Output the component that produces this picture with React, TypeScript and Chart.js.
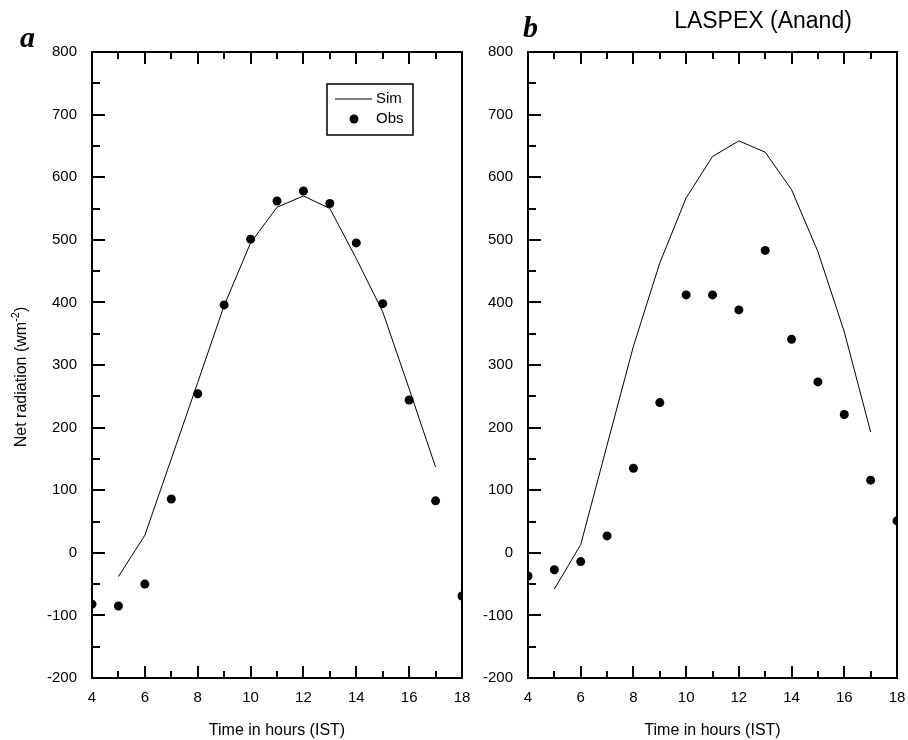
import React, { useEffect, useRef } from "react";
import { Chart, registerables } from "chart.js";

Chart.register(...registerables);

// Hours of the day (IST)
const simHours = [5, 6, 7, 8, 9, 10, 11, 12, 13, 14, 15, 16, 17];
const obsHours = [4, 5, 6, 7, 8, 9, 10, 11, 12, 13, 14, 15, 16, 17, 18];

// Panel a: net radiation (W m-2)
const simA = [-38, 28, 150, 272, 395, 495, 552, 570, 550, 470, 385, 262, 137];
const obsA = [-82, -85, -50, 86, 254, 396, 501, 562, 578, 558, 495, 398, 244, 83, -69];

// Panel b: LASPEX (Anand)
const simB = [-58, 13, 172, 330, 463, 567, 633, 658, 640, 580, 481, 353, 193];
const obsB = [-37, -27, -14, 27, 135, 240, 412, 412, 388, 483, 341, 273, 221, 116, 51];

// Axis ranges
const X_MIN = 4;
const X_MAX = 18;
const X_MAJOR = 2;
const X_MINOR = 1;
const Y_MIN = -200;
const Y_MAX = 800;
const Y_MAJOR = 100;
const Y_MINOR = 50;

const SANS = "'Liberation Sans', Arial, sans-serif";
const SERIF = "'Liberation Serif', 'Times New Roman', serif";

type PanelProps = {
  left: number;
  width: number;
  plotLeft: number;
  plotRight: number;
  sim: number[];
  obs: number[];
  letter: string;
  letterX: number;
  letterY: number;
  heading?: string;
  headingX?: number;
  showLegend?: boolean;
  showYTitle?: boolean;
};

const HEIGHT = 740;
const PLOT_TOP = 52;
const X_AXIS_H = 62;

function Panel(props: PanelProps) {
  const ref = useRef<HTMLCanvasElement | null>(null);

  useEffect(() => {
    const canvas = ref.current;
    if (!canvas) return;

    const framePlugin = {
      id: "frameAndLabels",
      afterDraw(chart: any) {
        const { ctx, chartArea, scales } = chart;
        const { left, right, top, bottom } = chartArea;
        const xs = scales.x;
        const ys = scales.y;
        ctx.save();
        ctx.strokeStyle = "#000";
        ctx.fillStyle = "#000";

        // inward ticks on left, top and bottom
        ctx.lineWidth = 2;
        ctx.beginPath();
        for (let v = Y_MIN; v <= Y_MAX; v += Y_MINOR) {
          const y = Math.round(ys.getPixelForValue(v));
          const len = v % Y_MAJOR === 0 ? 13 : 8;
          ctx.moveTo(left, y);
          ctx.lineTo(left + len, y);
        }
        for (let h = X_MIN; h <= X_MAX; h += X_MINOR) {
          const x = Math.round(xs.getPixelForValue(h));
          const len = (h - X_MIN) % X_MAJOR === 0 ? 12 : 7;
          ctx.moveTo(x, top);
          ctx.lineTo(x, top + len);
          ctx.moveTo(x, bottom);
          ctx.lineTo(x, bottom - len);
        }
        ctx.stroke();

        // frame
        ctx.lineWidth = 2;
        ctx.strokeRect(left, top, right - left, bottom - top);

        // legend
        if (props.showLegend) {
          const bw = 86;
          const bh = 51;
          const bx = right - 49 - bw;
          const by = top + 32;
          ctx.lineWidth = 1.5;
          ctx.strokeRect(bx, by, bw, bh);
          const ds = chart.data.datasets;
          ctx.font = `15px ${SANS}`;
          ctx.textBaseline = "middle";
          ctx.textAlign = "left";
          // line sample
          ctx.lineWidth = 1;
          ctx.beginPath();
          ctx.moveTo(bx + 8, by + 15);
          ctx.lineTo(bx + 45, by + 15);
          ctx.stroke();
          ctx.fillText(ds[0].label, bx + 49, by + 15);
          // dot sample
          ctx.beginPath();
          ctx.arc(bx + 27, by + 35, 4.5, 0, Math.PI * 2);
          ctx.fill();
          ctx.fillText(ds[1].label, bx + 49, by + 35);
        }

        // panel letter
        ctx.font = `italic bold 30px ${SERIF}`;
        ctx.textAlign = "left";
        ctx.textBaseline = "alphabetic";
        ctx.fillText(props.letter, props.letterX, props.letterY);

        // heading
        if (props.heading) {
          ctx.font = `23px ${SANS}`;
          ctx.textAlign = "center";
          ctx.textBaseline = "middle";
          ctx.fillText(props.heading, props.headingX ?? (left + right) / 2, 22);
        }

        // y-axis title with superscript
        if (props.showYTitle) {
          ctx.translate(22, 377);
          ctx.rotate(-Math.PI / 2);
          const main = "Net radiation (wm";
          const sup = "-2";
          const tail = ")";
          ctx.textBaseline = "middle";
          ctx.textAlign = "left";
          ctx.font = `16px ${SANS}`;
          const w1 = ctx.measureText(main).width;
          const w3 = ctx.measureText(tail).width;
          ctx.font = `11px ${SANS}`;
          const w2 = ctx.measureText(sup).width;
          let x = -(w1 + w2 + w3) / 2;
          ctx.font = `16px ${SANS}`;
          ctx.fillText(main, x, 0);
          x += w1;
          ctx.font = `11px ${SANS}`;
          ctx.fillText(sup, x, -6);
          x += w2;
          ctx.font = `16px ${SANS}`;
          ctx.fillText(tail, x, 0);
        }
        ctx.restore();
      },
    };

    const chart = new Chart(canvas, {
      type: "scatter",
      data: {
        datasets: [
          {
            label: "Sim",
            data: simHours.map((h, i) => ({ x: h, y: props.sim[i] })),
            showLine: true,
            borderColor: "#000",
            borderWidth: 1,
            pointRadius: 0,
            fill: false,
            clip: 0,
          },
          {
            label: "Obs",
            data: obsHours.map((h, i) => ({ x: h, y: props.obs[i] })),
            showLine: false,
            pointRadius: 4.5,
            pointBackgroundColor: "#000",
            pointBorderWidth: 0,
            borderColor: "#000",
            clip: 0,
          },
        ],
      },
      options: {
        animation: false,
        responsive: false,
        maintainAspectRatio: false,
        layout: {
          padding: {
            left: 0,
            top: PLOT_TOP,
            right: props.width - props.plotRight,
            bottom: 0,
          },
        },
        plugins: {
          legend: { display: false },
          tooltip: { enabled: false },
        },
        scales: {
          x: {
            type: "linear",
            min: X_MIN,
            max: X_MAX,
            grid: { display: false, drawTicks: false },
            border: { display: false },
            ticks: {
              stepSize: X_MAJOR,
              padding: 11,
              color: "#000",
              font: { family: SANS, size: 15 },
              maxRotation: 0,
            },
            title: {
              display: true,
              text: "Time in hours (IST)",
              color: "#000",
              font: { family: SANS, size: 16 },
              padding: { top: 0, bottom: 0 },
            },
            afterFit(scale: any) {
              scale.height = X_AXIS_H;
              scale.paddingLeft = 0;
              scale.paddingRight = 0;
            },
          },
          y: {
            type: "linear",
            min: Y_MIN,
            max: Y_MAX,
            grid: { display: false, drawTicks: false },
            border: { display: false },
            ticks: {
              stepSize: Y_MAJOR,
              padding: 15,
              color: "#000",
              font: { family: SANS, size: 15 },
            },
            afterFit(scale: any) {
              scale.width = props.plotLeft;
              scale.paddingTop = 0;
              scale.paddingBottom = 0;
            },
          },
        },
      },
      plugins: [framePlugin],
    });

    return () => chart.destroy();
  }, []);

  return (
    <canvas
      ref={ref}
      width={props.width}
      height={HEIGHT}
      style={{
        position: "absolute",
        left: props.left,
        top: 0,
        width: props.width,
        height: HEIGHT,
      }}
    />
  );
}

export default function App() {
  return (
    <div
      style={{
        position: "fixed",
        left: 0,
        top: 0,
        width: 908,
        height: 740,
        background: "#fff",
        overflow: "hidden",
      }}
    >
      <Panel
        left={0}
        width={470}
        plotLeft={92}
        plotRight={462}
        sim={simA}
        obs={obsA}
        letter="a"
        letterX={20}
        letterY={47}
        showLegend
        showYTitle
      />
      <Panel
        left={470}
        width={438}
        plotLeft={58}
        plotRight={427}
        sim={simB}
        obs={obsB}
        letter="b"
        letterX={53}
        letterY={37}
        heading="LASPEX (Anand)"
        headingX={293}
      />
    </div>
  );
}
